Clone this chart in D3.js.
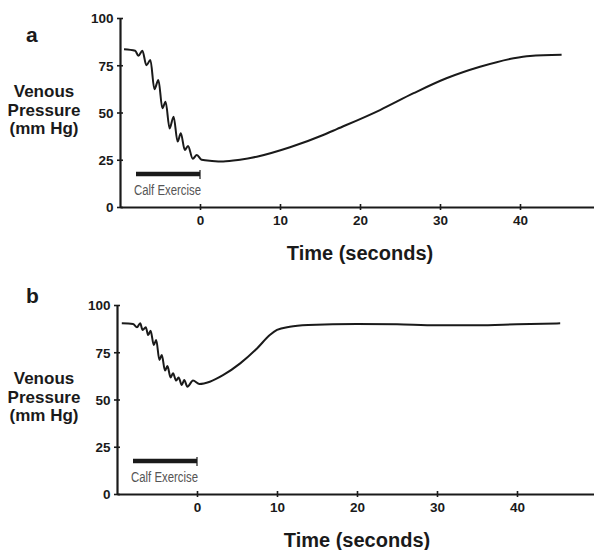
<!DOCTYPE html>
<html>
<head>
<meta charset="utf-8">
<script src="https://cdn.jsdelivr.net/npm/d3@7"></script>
<style>
  body { margin: 0; background: #fff; }
  svg { display: block; }
</style>
</head>
<body>
<div id="container"></div>
<script>
/* Data */
const timeA = [-9.5, -8.1, -7.7, -7.2, -6.7, -6.2, -5.7, -5.2, -4.7, -4.3, -3.8, -3.3, -2.8, -2.4, -1.9, -1.5, -0.9, -0.4, 0.2,
  1.5, 2.9, 5, 7.1, 11.25, 15.4, 17.1, 22.5, 26.7, 30.8, 35, 39.2, 41.25, 45.2];
const pressureA = [83.5, 82.7, 80, 82.7, 75, 77.8, 62.3, 67.2, 52.2, 55.7, 41.6, 47.8, 34.6, 39, 30.2, 32.3, 25.5, 27.5, 25,
  24.4, 24.1, 25, 26.6, 31.6, 38.1, 41.2, 51.3, 60.2, 68.1, 74.2, 78.7, 79.9, 80.5];

const timeB = [-9.4, -8, -7.5, -7.1, -6.8, -6.4, -6.1, -5.8, -5.4, -5.1, -4.7, -4.4, -4.0, -3.7, -3.3, -3.0, -2.6, -2.3, -1.9, -1.6, -1.2, -0.5, 0.3,
  1.6, 3.3, 5.4, 7.5, 9.1, 10, 11.6, 13.9, 20, 25, 30, 35, 40, 45.4];
const pressureB = [90.3, 90, 88.2, 90.3, 86.8, 88.2, 84.1, 86.4, 78.8, 81.5, 70.9, 73.5, 65.3, 67.7, 61.7, 63.9, 60, 61.7, 57.7, 60.3, 56.8, 60, 58.2,
  59.4, 63, 69.1, 77, 84.1, 86.8, 88.5, 89.4, 90, 89.8, 89.3, 89.3, 89.8, 90.3];

const xTicks = [0, 10, 20, 30, 40];
const yTicks = [0, 25, 50, 75, 100];
const exercise = [-8, 0];
const exerciseLevel = 17.5;
const exerciseLabel = "Calf Exercise";
const yLabel = ["Venous", "Pressure", "(mm Hg)"];
const xLabel = "Time (seconds)";

const width = 594, height = 550;
const fontPolice = "'Liberation Sans', Arial, Helvetica, sans-serif";
const ink = "#1a1a1a";

const svg = d3.select("#container").append("svg")
  .attr("width", width)
  .attr("height", height);

function drawPanel(letter, times, values, axisX, baseY, letterY) {
  const x = d3.scaleLinear().domain([-10, 50]).range([axisX, axisX + 480]);
  const y = d3.scaleLinear().domain([0, 100]).range([baseY, baseY - 189]);
  const g = svg.append("g");

  /* Axes */
  const xAxis = g.append("g")
    .attr("transform", "translate(0," + baseY + ")")
    .call(d3.axisBottom(x).tickValues(xTicks).tickSize(3).tickSizeOuter(0).tickPadding(5.5));
  const yAxis = g.append("g")
    .attr("transform", "translate(" + axisX + ",0)")
    .call(d3.axisLeft(y).tickValues(yTicks).tickSize(3).tickSizeOuter(0).tickPadding(3.5));

  xAxis.selectAll("line").attr("y1", -3);
  yAxis.selectAll("line").attr("x1", 3);
  [xAxis, yAxis].forEach(function(a) {
    a.select(".domain").attr("stroke", ink).attr("stroke-width", 2.2);
    a.selectAll("line").attr("stroke", ink).attr("stroke-width", 1.6);
    a.selectAll("text")
      .style("font-family", fontPolice)
      .style("font-size", "13.5px")
      .style("font-weight", "bold")
      .attr("fill", ink);
  });
  yAxis.selectAll("text").attr("dy", "0.36em");

  /* Curve */
  const line = d3.line()
    .x(function(d, i) { return x(times[i]); })
    .y(function(d) { return y(d); })
    .curve(d3.curveMonotoneX);
  g.append("path")
    .datum(values)
    .attr("d", line)
    .attr("fill", "none")
    .attr("stroke", ink)
    .attr("stroke-width", 2)
    .attr("stroke-linejoin", "round");

  /* Exercise bar */
  g.append("line")
    .attr("x1", x(exercise[0])).attr("x2", x(exercise[1]))
    .attr("y1", y(exerciseLevel)).attr("y2", y(exerciseLevel))
    .attr("stroke", ink).attr("stroke-width", 4.5);
  g.append("line")
    .attr("x1", x(exercise[1])).attr("x2", x(exercise[1]))
    .attr("y1", y(exerciseLevel) - 4).attr("y2", y(exerciseLevel) + 5)
    .attr("stroke", ink).attr("stroke-width", 1.2);
  g.append("text")
    .attr("x", x((exercise[0] + exercise[1]) / 2) - 0.5)
    .attr("y", baseY - 12.5)
    .attr("text-anchor", "middle")
    .attr("textLength", 67)
    .attr("lengthAdjust", "spacingAndGlyphs")
    .style("font-family", "'Liberation Sans Narrow', 'Arial Narrow', " + fontPolice)
    .style("font-size", "14px")
    .attr("fill", "#555")
    .text(exerciseLabel);

  /* Labels */
  g.append("text")
    .attr("x", 26)
    .attr("y", letterY)
    .style("font-family", fontPolice)
    .style("font-size", "21px")
    .style("font-weight", "bold")
    .attr("fill", ink)
    .text(letter);

  g.selectAll(".ylab")
    .data(yLabel)
    .enter().append("text")
      .attr("x", 44)
      .attr("y", function(d, i) { return baseY - 110 + i * 18.5; })
      .attr("text-anchor", "middle")
      .style("font-family", fontPolice)
      .style("font-size", "17px")
      .style("font-weight", "bold")
      .attr("fill", ink)
      .text(function(d) { return d; });

  g.append("text")
    .attr("x", x(20))
    .attr("y", baseY + 53)
    .attr("text-anchor", "middle")
    .style("font-family", fontPolice)
    .style("font-size", "20px")
    .style("font-weight", "bold")
    .attr("fill", ink)
    .text(xLabel);
}

drawPanel("a", timeA, pressureA, 120, 207, 42);
drawPanel("b", timeB, pressureB, 117, 494, 303);
</script>
</body>
</html>
